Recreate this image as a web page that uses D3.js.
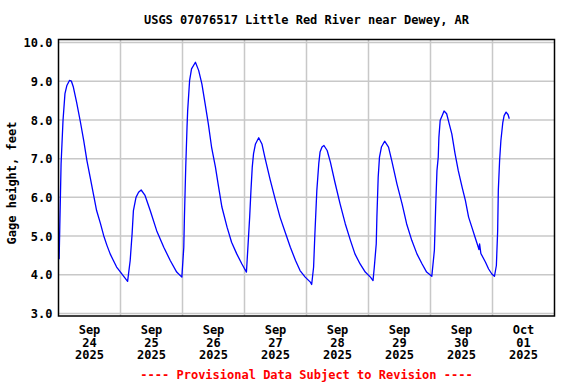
<!DOCTYPE html>
<html>
<head>
<meta charset="utf-8">
<script src="https://cdn.jsdelivr.net/npm/d3@7"></script>
<style>
  html, body { margin: 0; padding: 0; background: #fff; }
  svg { display: block; }
  text { font-family: "DejaVu Sans Mono", "Liberation Mono", monospace; font-weight: bold; font-size: 12px; }
</style>
</head>
<body>
<svg id="chart" width="576" height="384"></svg>
<script>
const title = "USGS 07076517 Little Red River near Dewey, AR";
const yLabel = "Gage height, feet";
const footer = "---- Provisional Data Subject to Revision ----";
const xDomain = ["2025-09-24T00:00", "2025-10-02T00:00"];
const yTicks = [3, 4, 5, 6, 7, 8, 9, 10];
const dayTicks = ["2025-09-24", "2025-09-25", "2025-09-26", "2025-09-27", "2025-09-28", "2025-09-29", "2025-09-30", "2025-10-01"];

const times = [
  "09-24T00:15","09-24T00:30","09-24T01:00","09-24T01:45","09-24T02:30","09-24T03:15","09-24T04:15","09-24T05:00","09-24T05:45","09-24T07:00","09-24T08:30","09-24T09:45","09-24T11:00","09-24T12:15","09-24T13:30","09-24T14:45","09-24T16:15","09-24T17:30","09-24T18:45","09-24T20:00","09-24T21:15","09-24T22:30",
  "09-25T00:00","09-25T01:15","09-25T02:45","09-25T03:45","09-25T04:30","09-25T05:00","09-25T06:00","09-25T07:00","09-25T08:00","09-25T09:30","09-25T11:30","09-25T14:00","09-25T16:45","09-25T19:15","09-25T21:45","09-25T23:45",
  "09-26T00:30","09-26T00:45","09-26T01:15","09-26T01:45","09-26T02:00","09-26T02:45","09-26T03:30","09-26T05:00","09-26T06:15","09-26T07:30","09-26T08:45","09-26T10:00","09-26T11:15","09-26T12:45","09-26T14:00","09-26T15:15","09-26T17:15","09-26T19:00","09-26T21:00","09-26T23:00",
  "09-27T00:45","09-27T01:15","09-27T02:00","09-27T02:30","09-27T03:00","09-27T03:30","09-27T04:15","09-27T05:30","09-27T06:45","09-27T08:00","09-27T10:00","09-27T12:00","09-27T13:45","09-27T15:45","09-27T17:45","09-27T19:45","09-27T21:30","09-27T23:30",
  "09-28T01:30","09-28T02:00","09-28T02:45","09-28T03:15","09-28T04:00","09-28T04:45","09-28T05:15","09-28T06:00","09-28T06:45","09-28T08:00","09-28T09:15","09-28T11:00","09-28T13:00","09-28T15:00","09-28T17:00","09-28T18:45","09-28T20:45","09-28T22:45",
  "09-29T00:45","09-29T01:45","09-29T02:15","09-29T03:00","09-29T03:15","09-29T03:45","09-29T04:15","09-29T05:00","09-29T06:15","09-29T07:45","09-29T09:00","09-29T11:00","09-29T13:00","09-29T14:45","09-29T16:45","09-29T18:45","09-29T20:45","09-29T22:30",
  "09-30T00:30","09-30T01:30","09-30T02:00","09-30T02:30","09-30T03:00","09-30T03:15","09-30T03:45","09-30T04:30","09-30T05:15","09-30T06:15","09-30T07:15","09-30T08:15","09-30T09:30","09-30T10:45","09-30T12:15","09-30T13:30","09-30T14:45","09-30T16:00","09-30T17:15","09-30T18:30","09-30T18:45","09-30T19:00","09-30T19:30","09-30T21:15","09-30T22:30","09-30T23:45",
  "10-01T00:45","10-01T01:30","10-01T02:00","10-01T02:15","10-01T02:45","10-01T03:15","10-01T04:00","10-01T04:30","10-01T05:15","10-01T06:00","10-01T06:30"
];
const gage = [
  4.40,5.25,6.87,7.99,8.68,8.89,9.02,9.00,8.85,8.46,7.94,7.47,6.95,6.52,6.09,5.66,5.32,5.01,4.76,4.54,4.37,4.20,
  4.07,3.96,3.83,4.37,5.07,5.66,6.00,6.13,6.19,6.05,5.66,5.14,4.71,4.37,4.07,3.94,
  4.71,5.49,6.78,7.81,8.24,9.02,9.32,9.49,9.28,8.93,8.42,7.90,7.30,6.78,6.26,5.75,5.23,4.84,4.54,4.28,
  4.07,4.63,5.49,6.18,6.78,7.13,7.38,7.54,7.38,7.00,6.44,5.92,5.49,5.10,4.71,4.37,4.11,3.94,
  3.81,3.75,4.20,5.06,6.18,6.87,7.17,7.30,7.34,7.21,6.91,6.39,5.83,5.32,4.89,4.54,4.28,4.07,
  3.94,3.85,4.20,4.80,5.49,6.52,7.04,7.30,7.45,7.30,6.95,6.35,5.83,5.32,4.89,4.54,4.28,4.07,
  3.96,4.63,5.75,6.69,7.04,7.55,7.99,8.11,8.23,8.16,7.90,7.64,7.13,6.69,6.26,5.92,5.49,5.23,4.97,4.71,4.65,4.80,4.55,4.33,4.15,4.02,
  3.96,4.24,5.14,6.18,6.95,7.47,7.94,8.11,8.20,8.14,8.03
];

const parseT = d3.utcParse("%Y-%m-%dT%H:%M");
const parseD = d3.utcParse("%Y-%m-%d");
const data = times.map((t, i) => ({ t: parseT("2025-" + t), v: gage[i] }));

const svg = d3.select("#chart");
const L = 58.5, R = 554.5, T = 39.5, B = 316;

const x = d3.scaleUtc().domain(xDomain.map(parseT)).range([L, R]);
const y = d3.scaleLinear().domain([3, 10]).range([313.5, 42.5]);

// grid
const grid = svg.append("g").attr("stroke", "#c8c8c8").attr("stroke-width", 1.5);
grid.selectAll("line.h").data(yTicks).join("line")
  .attr("x1", L).attr("x2", R)
  .attr("y1", d => y(d)).attr("y2", d => y(d));
const gridDays = d3.utcDay.range(parseT(xDomain[0]), parseT(xDomain[1])).slice(1);
grid.selectAll("line.v").data(gridDays).join("line")
  .attr("x1", d => x(d)).attr("x2", d => x(d))
  .attr("y1", T).attr("y2", B);

// y tick labels
const yAxis = d3.axisLeft(y).tickValues(yTicks).tickFormat(d3.format(".1f")).tickSize(0).tickPadding(0);
const gy = svg.append("g").attr("transform", `translate(${L - 6},0)`).call(yAxis);
gy.select(".domain").remove();
gy.selectAll("text").attr("fill", "#000").style("font-size", "12px").attr("dy", "0.35em");

// x tick labels (noon of each day)
const fmtMon = d3.utcFormat("%b"), fmtDay = d3.utcFormat("%d"), fmtYr = d3.utcFormat("%Y");
const xl = svg.append("g").attr("text-anchor", "middle").attr("fill", "#000");
dayTicks.forEach(ds => {
  const d = parseD(ds);
  const cx = x(d3.utcHour.offset(d, 12));
  const tx = xl.append("text").attr("x", cx);
  tx.append("tspan").attr("x", cx).attr("y", 334).text(fmtMon(d));
  tx.append("tspan").attr("x", cx).attr("y", 346.5).text(fmtDay(d));
  tx.append("tspan").attr("x", cx).attr("y", 359).text(fmtYr(d));
});

// line
const line = d3.line().x(d => x(d.t)).y(d => y(d.v));
svg.append("path").datum(data)
  .attr("d", line)
  .attr("fill", "none")
  .attr("stroke", "#0000ff")
  .attr("stroke-width", 1.3)
  .attr("stroke-linejoin", "round");

// frame
svg.append("rect").attr("x", L).attr("y", T).attr("width", R - L).attr("height", B - T)
  .attr("fill", "none").attr("stroke", "#000").attr("stroke-width", 1.5);

// title
svg.append("text").attr("x", (L + R) / 2).attr("y", 24).attr("text-anchor", "middle")
  .attr("fill", "#000").text(title);

// y label
svg.append("text").attr("transform", "translate(16,183) rotate(-90)")
  .attr("text-anchor", "middle").attr("fill", "#000").text(yLabel);

// footer
svg.append("text").attr("x", (L + R) / 2).attr("y", 379).attr("text-anchor", "middle")
  .attr("fill", "#ff0000").text(footer);
</script>
</body>
</html>
